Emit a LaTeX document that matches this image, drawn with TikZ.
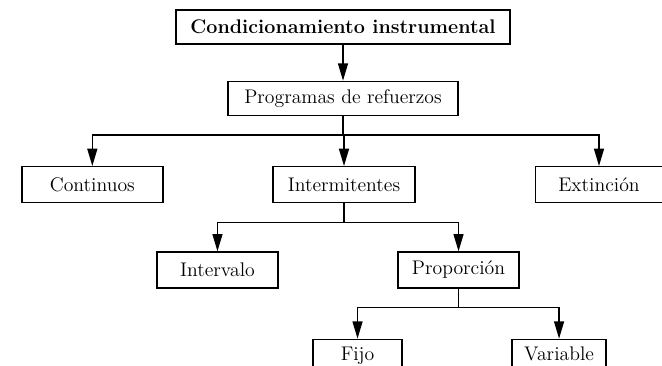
\documentclass[tikz,border=0pt]{standalone}
\usepackage{tikz}
\usetikzlibrary{arrows.meta, positioning}

\begin{document}
\begin{tikzpicture}[
    x=0.75pt, y=-0.75pt,
    node distance=37.5pt and 20pt,
    box/.style={
        rectangle,
        draw=black,
        line width=1pt,
        fill=white,
        align=center,
        inner sep=0pt,
        minimum height=27pt,
        font=\fontsize{14.8pt}{17pt}\selectfont
    },
    headbox/.style={
        box,
        minimum height=25.5pt,
        font=\fontsize{14.8pt}{17pt}\selectfont\bfseries
    },
    cutbox/.style={
        box,
        text depth=6pt
    },
    arrow/.style={-{Triangle[length=13pt, width=7.5pt]}, line width=1pt}
]

\useasboundingbox (0,0) rectangle (662,365);
\clip (0,0) rectangle (662,365);

% top
\node[headbox, minimum width=250.5pt] (cond) at (343,27) {Condicionamiento instrumental};
\node[box, minimum width=172.5pt, minimum height=25.5pt, below=27pt of cond] (prog) {Programas de refuerzos};
\draw[arrow] (cond) -- (prog);

% second row
\node[box, minimum width=105.75pt, below=of prog, xshift=-188pt] (cont) {Continuos};
\node[box, minimum width=106.5pt, below=of prog, xshift=0.75pt] (inter) {Intermitentes};
\node[box, minimum width=95.25pt, below=of prog, xshift=192pt] (ext) {Extinción};
\draw[arrow] (prog.south) -- ++(0,-14.25pt) -| (cont.north);
\draw[arrow] (prog.south) -- ++(0,-14.25pt) -| (inter.north);
\draw[arrow] (prog.south) -- ++(0,-14.25pt) -| (ext.north);

% third row
\node[box, minimum width=90.75pt, below=36pt of inter, xshift=-94.9pt] (interv) {Intervalo};
\node[box, minimum width=90.75pt, below=36pt of inter, xshift=85.9pt] (prop) {Proporción};
\draw[arrow] (inter.south) -- ++(0,-14.6pt) -| (interv.north);
\draw[arrow] (inter.south) -- ++(0,-14.6pt) -| (prop.north);

% fourth row, cut at the lower edge
\node[cutbox, minimum width=66.75pt, below=of prop, xshift=-75.75pt] (fijo) {Fijo};
\node[cutbox, minimum width=70.5pt, below=of prop, xshift=75.4pt] (var) {Variable};
\draw[arrow] (prop.south) -- ++(0,-14.25pt) -| (fijo.north);
\draw[arrow] (prop.south) -- ++(0,-14.25pt) -| (var.north);

\end{tikzpicture}
\end{document}
